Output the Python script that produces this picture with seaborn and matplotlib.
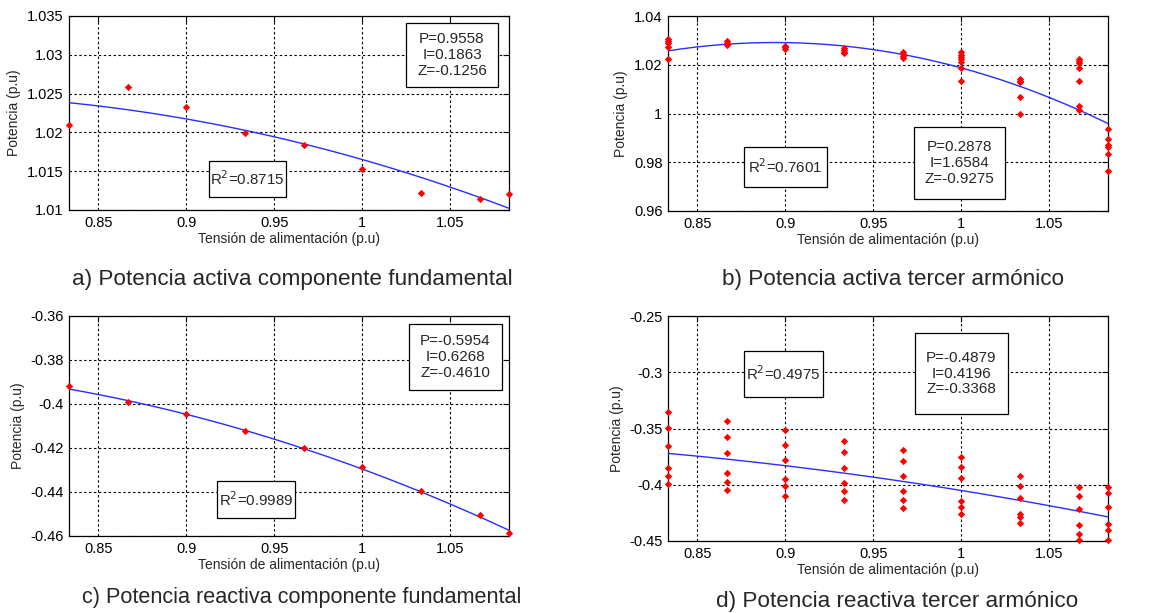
import numpy as np
import pandas as pd
import matplotlib
matplotlib.use("Agg")
import matplotlib.pyplot as plt
from matplotlib.patches import Rectangle
import seaborn as sns

sns.set_style("white")
plt.rcParams['font.family'] = ['Liberation Sans', 'DejaVu Sans']

# ---------------- data ----------------
voltages = [0.8333, 0.8667, 0.9, 0.9333, 0.9667, 1.0, 1.0333, 1.0667, 1.0833]

# a) active power, fundamental (one point per voltage)
pa_vals = [1.0210, 1.02585, 1.02327, 1.01997, 1.01842, 1.01528, 1.01219, 1.01142, 1.01202]
zip_a = (0.9558, 0.1863, -0.1256)
r2_a = "0.8715"

# b) active power, third harmonic (several points per voltage)
pb_vals = [
    [1.0304, 1.0296, 1.0288, 1.0274, 1.0223],
    [1.0296, 1.0290, 1.0285, 1.0281],
    [1.0278, 1.0273, 1.0266],
    [1.0267, 1.0260, 1.0253, 1.0247],
    [1.0252, 1.0245, 1.0237, 1.0226],
    [1.0251, 1.0242, 1.0233, 1.0223, 1.0212, 1.0185, 1.0134],
    [1.0140, 1.0134, 1.0130, 1.0068, 0.9996],
    [1.0222, 1.0215, 1.0208, 1.0185, 1.0133, 1.0030, 1.0016],
    [0.9938, 0.9897, 0.9870, 0.9863, 0.9833, 0.9763],
]
zip_b = (0.2878, 1.6584, -0.9275)
r2_b = "0.7601"

# c) reactive power, fundamental
pc_vals = [-0.3920, -0.3992, -0.4047, -0.4124, -0.4198, -0.4286, -0.4397, -0.4505, -0.4588]
zip_c = (-0.5954, 0.6268, -0.4610)
r2_c = "0.9989"

# d) reactive power, third harmonic
pd_vals = [
    [-0.3355, -0.3494, -0.3654, -0.3850, -0.3921, -0.3993],
    [-0.3435, -0.3574, -0.3717, -0.3892, -0.3975, -0.4043],
    [-0.3515, -0.3643, -0.3779, -0.3945, -0.4013, -0.4099],
    [-0.3607, -0.3711, -0.3850, -0.3987, -0.4058, -0.4138],
    [-0.3690, -0.3791, -0.3921, -0.4052, -0.4132, -0.4206],
    [-0.3749, -0.3841, -0.3936, -0.4144, -0.4197, -0.4260],
    [-0.3921, -0.4007, -0.4117, -0.4257, -0.4290, -0.4340],
    [-0.4016, -0.4096, -0.4215, -0.4360, -0.4434, -0.4494],
    [-0.4016, -0.4076, -0.4197, -0.4346, -0.4399, -0.4494],
]
zip_d = (-0.4879, 0.4196, -0.3368)
r2_d = "0.4975"

captions = ["a) Potencia activa componente fundamental",
            "b) Potencia activa tercer armónico",
            "c) Potencia reactiva componente fundamental",
            "d) Potencia reactiva tercer armónico"]

xticks = [0.85, 0.9, 0.95, 1.0, 1.05]
xticklabels = ["0.85", "0.9", "0.95", "1", "1.05"]
yticks_a = [1.01, 1.015, 1.02, 1.025, 1.03, 1.035]
ylabels_a = ["1.01", "1.015", "1.02", "1.025", "1.03", "1.035"]
yticks_b = [0.96, 0.98, 1.0, 1.02, 1.04]
ylabels_b = ["0.96", "0.98", "1", "1.02", "1.04"]
yticks_c = [-0.46, -0.44, -0.42, -0.40, -0.38, -0.36]
ylabels_c = ["-0.46", "-0.44", "-0.42", "-0.4", "-0.38", "-0.36"]
yticks_d = [-0.45, -0.40, -0.35, -0.30, -0.25]
ylabels_d = ["-0.45", "-0.4", "-0.35", "-0.3", "-0.25"]


def to_frame(vals):
    rows = []
    for v, ys in zip(voltages, vals):
        if isinstance(ys, list):
            for y in ys:
                rows.append((v, y))
        else:
            rows.append((v, ys))
    return pd.DataFrame(rows, columns=["V", "P"])


W, H = 1173, 613
fig = plt.figure(figsize=(W / 100, H / 100), dpi=100)


def make_ax(x0, y0, x1, y1):
    return fig.add_axes([x0 / W, 1 - y1 / H, (x1 - x0) / W, (y1 - y0) / H])


axes_px = [(69, 16, 509, 210), (668, 16, 1108, 211),
           (69, 316, 509, 536), (668, 316, 1108, 541)]
datasets = [pa_vals, pb_vals, pc_vals, pd_vals]
zips = [zip_a, zip_b, zip_c, zip_d]
r2s = [r2_a, r2_b, r2_c, r2_d]
ytk = [(yticks_a, ylabels_a), (yticks_b, ylabels_b), (yticks_c, ylabels_c), (yticks_d, ylabels_d)]
# box positions in axes fraction: (x0, y0, x1, y1)
zip_boxes = [(0.766, 0.634, 0.975, 0.964), (0.559, 0.062, 0.766, 0.431),
             (0.773, 0.664, 0.984, 0.964), (0.561, 0.564, 0.773, 0.924)]
r2_boxes = [(0.318, 0.067, 0.493, 0.253), (0.173, 0.123, 0.361, 0.328),
            (0.336, 0.082, 0.514, 0.250), (0.173, 0.640, 0.352, 0.844)]
cap_pos = [(292, 280), (893, 280), (302, 597), (897, 601)]
cap_size = [16.2, 16.2, 15.6, 16.2]

for i in range(4):
    ax = make_ax(*axes_px[i])
    df = to_frame(datasets[i])
    Pc, Ic, Zc = zips[i]
    vv = np.linspace(voltages[0], voltages[-1], 200)
    fit = pd.DataFrame({"V": vv, "P": Pc + Ic * vv + Zc * vv ** 2})
    sns.lineplot(data=fit, x="V", y="P", ax=ax, color="#2b2bff", linewidth=1.0, zorder=3)
    sns.scatterplot(data=df, x="V", y="P", ax=ax, color="#ff0000", marker="D",
                    s=14, linewidth=0, zorder=4, clip_on=False)
    ax.set_xlim(voltages[0], voltages[-1])
    yt, yl = ytk[i]
    ax.set_ylim(yt[0], yt[-1])
    ax.set_xticks(xticks)
    ax.set_xticklabels(xticklabels)
    ax.set_yticks(yt)
    ax.set_yticklabels(yl)
    ax.tick_params(direction="in", length=4, width=0.8, top=True, right=True,
                   labelsize=10.5, colors="black", pad=4)
    ax.grid(True, color="black", linestyle=(0, (2.2, 2.2)), linewidth=0.8)
    for sp in ax.spines.values():
        sp.set_color("black")
        sp.set_linewidth(0.9)
    ax.set_xlabel("Tensión de alimentación (p.u)", fontsize=10, labelpad=2)
    ax.set_ylabel("Potencia (p.u)", fontsize=10, labelpad=4)

    bx0, by0, bx1, by1 = zip_boxes[i]
    ax.add_patch(Rectangle((bx0, by0), bx1 - bx0, by1 - by0, transform=ax.transAxes,
                           facecolor="white", edgecolor="black", linewidth=0.9, zorder=5))
    ax.text((bx0 + bx1) / 2, (by0 + by1) / 2,
            f"P={Pc:.4f}\nI={Ic:.4f}\nZ={Zc:.4f}", transform=ax.transAxes,
            ha="center", va="center", fontsize=11, linespacing=1.15, zorder=6)
    rx0, ry0, rx1, ry1 = r2_boxes[i]
    ax.add_patch(Rectangle((rx0, ry0), rx1 - rx0, ry1 - ry0, transform=ax.transAxes,
                           facecolor="white", edgecolor="black", linewidth=0.9, zorder=5))
    ax.text((rx0 + rx1) / 2, (ry0 + ry1) / 2, r"R$^2$=" + r2s[i], transform=ax.transAxes,
            ha="center", va="center", fontsize=10.8, zorder=6)

    cx, cy = cap_pos[i]
    fig.text(cx / W, 1 - cy / H, captions[i], ha="center", va="center", fontsize=cap_size[i])

fig.savefig("out.png", dpi=100, facecolor="white")
